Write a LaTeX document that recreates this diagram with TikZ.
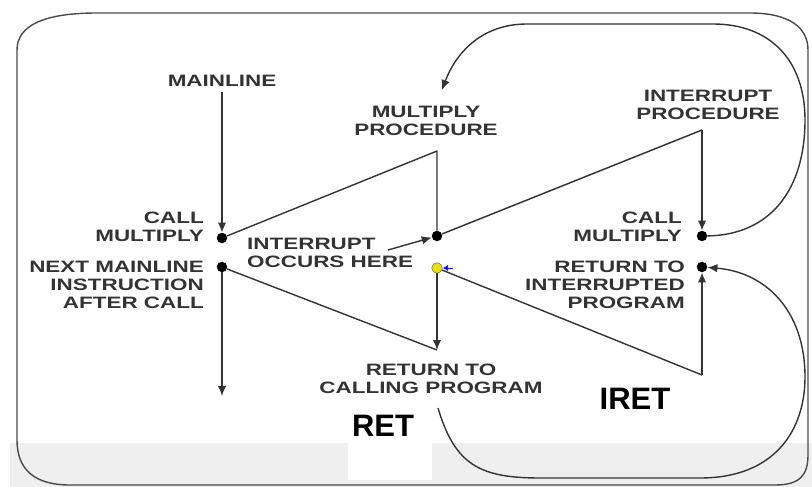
\documentclass[tikz,border=0pt]{standalone}
\usepackage{fontspec}
\usetikzlibrary{arrows.meta,positioning,calc}
\newfontfamily\lblfont[FakeStretch=1.36]{Liberation Sans}
\newfontfamily\bigfont{Liberation Sans}
\definecolor{inkgray}{HTML}{333333}
\definecolor{framegray}{HTML}{4A4A4A}
\definecolor{bandgray}{HTML}{EFEFEF}
\definecolor{dotyellow}{HTML}{E8E010}
\tikzset{label/.style={font=\lblfont\bfseries\fontsize{16.5}{18}\selectfont,text=inkgray,inner sep=0pt},dot/.style={circle,fill=black,minimum size=10.5pt,inner sep=0pt},flow/.style={draw=inkgray,line width=1.4pt},tip/.style={-{Latex[length=10pt,width=8.5pt]}},frame/.style={draw=framegray,line width=1.4pt},bigtag/.style={font=\bigfont\bfseries\fontsize{31}{34}\selectfont,inner sep=0pt}}

\begin{document}
\begin{tikzpicture}[x=1pt,y=-1pt,line join=round]
\useasboundingbox (0,0) rectangle (812,487);
\fill[bandgray] (10,443) rectangle (812,487);
\fill[white] (348,443) rectangle (432,480);
\draw[frame] (17,50) .. controls (17,25) and (45,13) .. (97,13) -- (750,13) .. controls (790,13) and (808,28) .. (808,50) -- (808,455) .. controls (808,475) and (800,485) .. (775,485) -- (70,485) .. controls (35,485) and (17,470) .. (17,440) -- cycle;
% labels
\node[label,anchor=north] (ml) at (222,75) {MAINLINE};
\node[label,anchor=north,align=center] (mproc) at (426,106) {MULTIPLY\\PROCEDURE};
\node[label,anchor=north,align=center] (iproc) at (708,90) {INTERRUPT\\PROCEDURE};
\node[label,anchor=north east,align=right] (lcall) at (204,212) {CALL\\MULTIPLY};
\node[label,anchor=north east,align=right] (lnext) at (204,261) {NEXT MAINLINE\\INSTRUCTION\\AFTER CALL};
\node[label,anchor=north west,align=left] (locc) at (247,238) {INTERRUPT\\OCCURS HERE};
\node[label,anchor=north east,align=right] (rcall) at (682,212) {CALL\\MULTIPLY};
\node[label,anchor=north east,align=right] (rret) at (685,261) {RETURN TO\\INTERRUPTED\\PROGRAM};
\node[label,anchor=north,align=center] (cret) at (431,364) {RETURN TO\\CALLING PROGRAM};
\node[bigtag,anchor=north] (ret) at (383,415) {RET};
\node[bigtag,anchor=north] (iret) at (635,388) {IRET};
% dots and corners
\node[dot] (call1) at (222,238) {}; \node[dot] (next) at (222,267) {};
\node[dot] (intr) at (437,236) {}; \node[dot,fill=dotyellow,draw=black!70] (back) at (437,268) {};
\node[dot] (call2) at (702,236) {}; \node[dot] (ret2) at (702,267) {};
\coordinate (mtop) at (437,151); \coordinate (mbot) at (437,350);
\coordinate (itop) at (702,130); \coordinate (ibot) at (702,375);
\coordinate (mlend) at (222,92); \coordinate (down) at (222,396);
\coordinate (occ) at (388,250); \coordinate (mp) at (442,90); \coordinate (rs) at (438,408);
\draw[flow,tip] (mlend) -- (call1);
\draw[flow,tip] (next) -- (down);
\draw[flow] (call1) -- (mtop) -- (intr);
\draw[flow,tip] (back) -- (mbot);
\draw[flow] (mbot) -- (next);
\draw[flow] (intr) -- (itop);
\draw[flow,tip] (itop) -- (call2);
\draw[flow] (back) -- (ibot);
\draw[flow,tip] (ibot) -- (ret2);
\draw[flow,tip] (occ) -- (intr);
\draw[flow,tip] (call2) .. controls (770,235) and (805,190) .. (805,120) .. controls (805,60) and (770,24) .. (713,24) -- (527,24) .. controls (480,24) and (455,55) .. (mp);
\draw[flow,tip] (rs) .. controls (455,465) and (480,478) .. (540,478) -- (700,478) .. controls (775,478) and (805,430) .. (805,377) .. controls (805,310) and (765,272) .. (ret2);
\draw[blue,line width=.6pt,-{Latex[length=5pt,width=6pt]}] ($(back)+(16,0)$) -- ($(back)+(6,0)$);
\end{tikzpicture}
\end{document}
